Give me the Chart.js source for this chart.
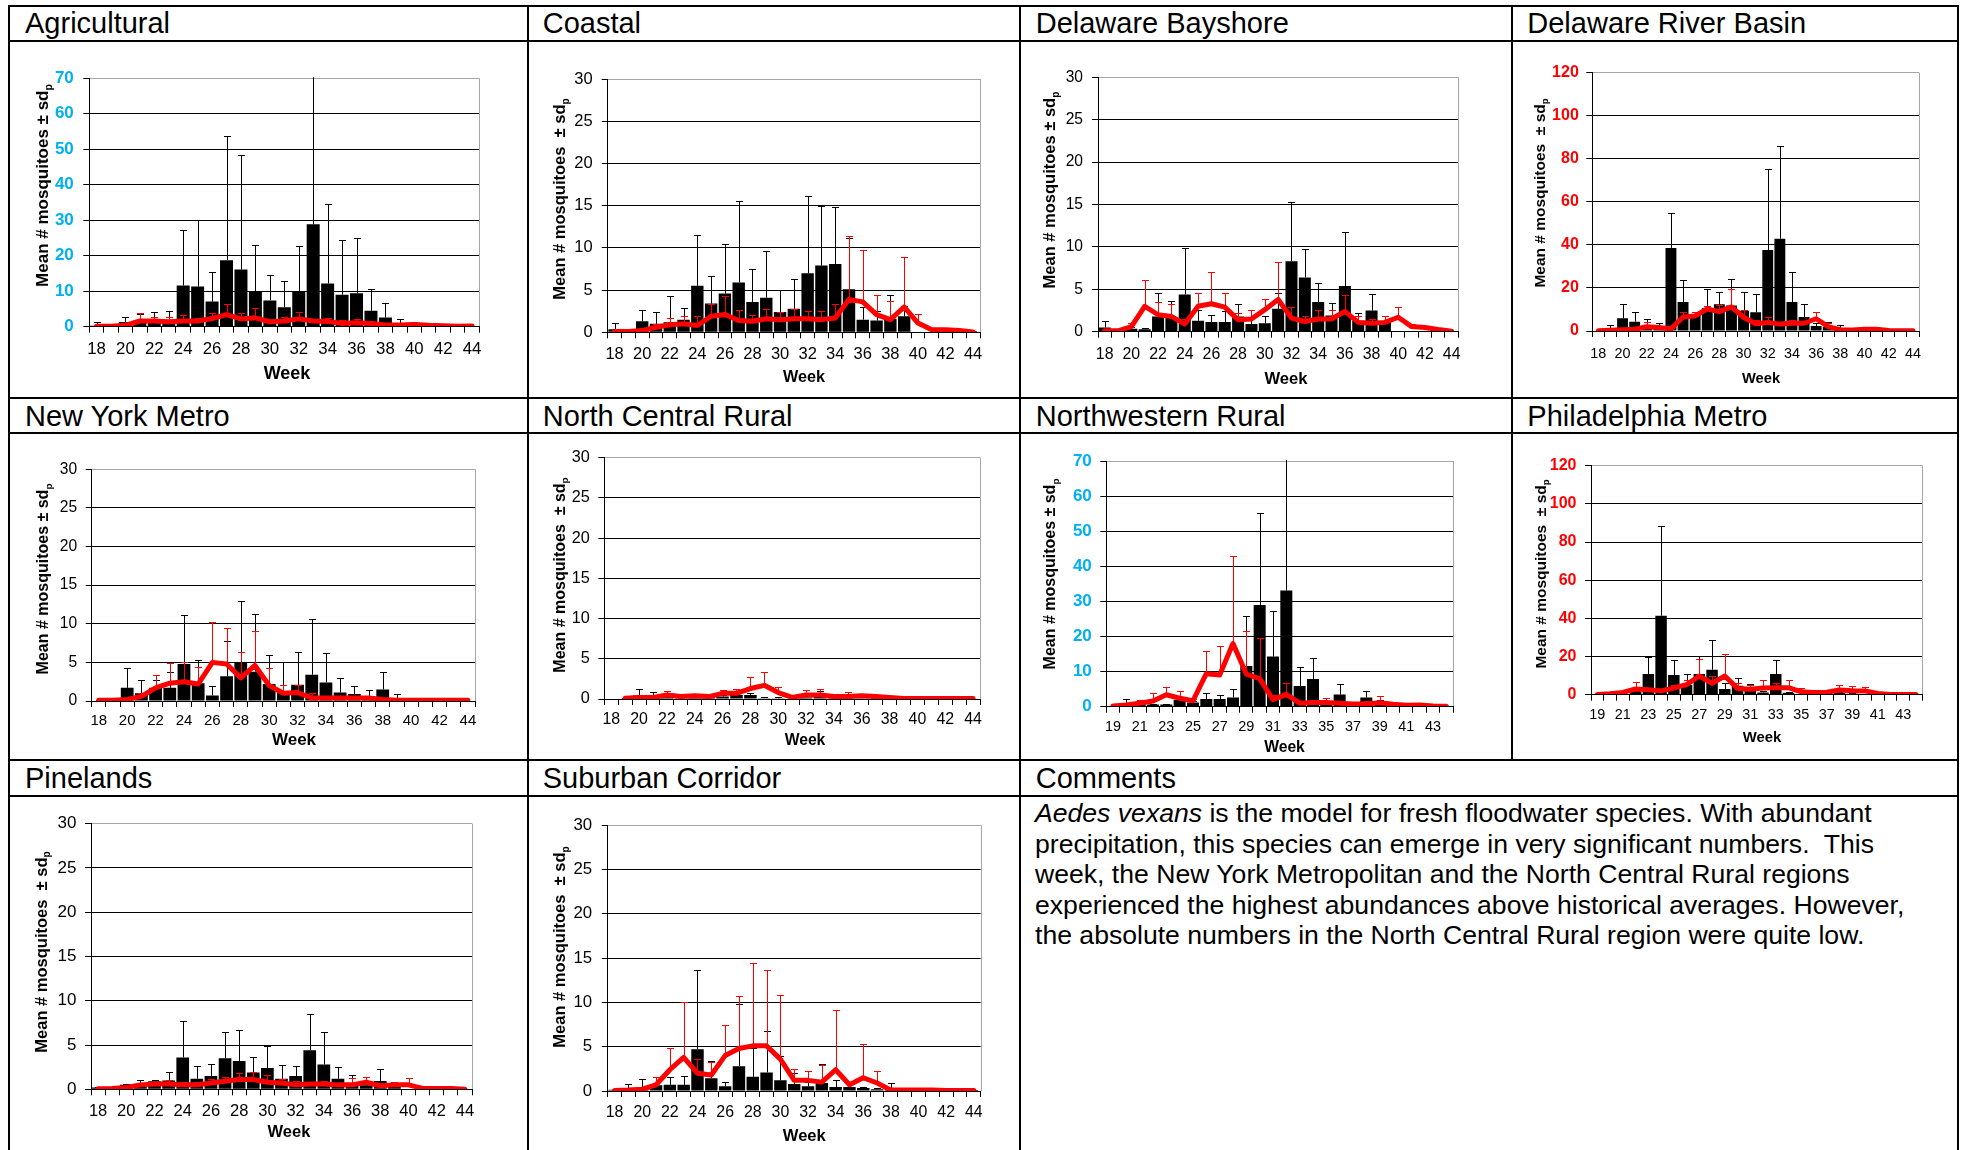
<!DOCTYPE html>
<html>
<head>
<meta charset="utf-8">
<script src="https://cdn.jsdelivr.net/npm/chart.js@4.4.1/dist/chart.umd.min.js"></script>
<style>
  html, body { margin: 0; padding: 0; background: #fff; }
  #page { position: relative; width: 1965px; height: 1150px; overflow: hidden;
          font-family: "Liberation Sans", Arial, sans-serif; color: #000; background: #fff; }
  .rule { position: absolute; background: #000; }
  .txt { position: absolute; white-space: pre; }
  canvas { position: absolute; }
</style>
</head>
<body>
<div id="page"></div>
<script>
// ---- Weeks (categories) ----
const weeksFrom18 = [18, 19, 20, 21, 22, 23, 24, 25, 26, 27, 28, 29, 30, 31, 32, 33, 34, 35, 36, 37, 38, 39, 40, 41, 42, 43, 44];
const weeksFrom19 = [19, 20, 21, 22, 23, 24, 25, 26, 27, 28, 29, 30, 31, 32, 33, 34, 35, 36, 37, 38, 39, 40, 41, 42, 43, 44];

// ---- Agricultural ----
const agriCurrent      = [0.3, 0, 1.3, 1.2, 1.8, 1.8, 11.6, 11.3, 7.1, 18.7, 16.1, 10.0, 7.4, 5.5, 10.0, 28.9, 12.2, 9.0, 9.4, 4.5, 2.6, 0.4, 0, 0, 0, 0, 0];
const agriCurrentSd    = [1.0, 0, 1.5, 2.4, 2.3, 2.7, 15.7, 18.8, 8.3, 34.9, 32.3, 13.1, 7.3, 7.3, 12.7, 45, 22.5, 15.4, 15.6, 6.1, 4.2, 1.9, 0, 0, 0, 0, 0];
const agriHistoric     = [0.1, 0.1, 0.4, 1.6, 1.6, 1.4, 1.6, 1.6, 2.3, 3.4, 2.2, 2.5, 1.4, 1.6, 2.2, 1.6, 1.5, 0.9, 1.1, 0.9, 0.5, 0.5, 0.6, 0.4, 0.3, 0.1, 0.2];
const agriHistoricSd   = [0.2, 0.2, 0.5, 2.3, 1.0, 1.3, 1.6, 0.9, 1.5, 3.0, 1.6, 2.9, 0.5, 1.2, 1.9, 0.7, 0.9, 0.9, 1.0, 0.8, 0.4, 0.3, 0.6, 0.2, 0.2, 0.1, 0.1];

// ---- Coastal ----
const coastCurrent     = [0.35, 0, 1.3, 1.0, 1.2, 1.5, 5.5, 3.4, 4.6, 5.9, 3.6, 4.1, 2.4, 2.8, 7.0, 7.9, 8.1, 5.1, 1.5, 1.4, 1.6, 1.9, 0, 0, 0, 0, 0];
const coastCurrentSd   = [0.75, 0, 1.4, 1.4, 3.1, 1.4, 6.0, 3.3, 5.9, 9.7, 3.9, 5.5, 2.6, 3.5, 9.1, 7.0, 6.7, 6.1, 1.5, 1.1, 2.8, 1.2, 0, 0, 0, 0, 0];
const coastHistoric    = [0.1, 0.1, 0.2, 0.6, 0.9, 1.0, 0.8, 1.9, 2.1, 1.4, 1.3, 1.6, 1.5, 1.6, 1.6, 1.5, 1.7, 3.9, 3.6, 2.1, 1.5, 3.0, 1.1, 0.3, 0.3, 0.2, 0.05];
const coastHistoricSd  = [0.1, 0.1, 0.2, 0.4, 0.8, 0.9, 1.1, 1.5, 2.2, 1.3, 0.7, 1.2, 0.9, 1.2, 0.9, 1.0, 1.7, 7.5, 6.1, 2.3, 2.2, 5.9, 1.1, 0.2, 0.2, 0.1, 0.05];

// ---- Delaware Bayshore ----
const bayCurrent       = [0.5, 0, 0.35, 0.3, 1.8, 1.65, 4.4, 1.3, 1.15, 1.15, 1.8, 0.9, 1.0, 2.7, 8.3, 6.4, 3.5, 1.9, 5.4, 1.3, 2.5, 1.05, 0, 0, 0, 0, 0];
const bayCurrentSd     = [0.8, 0, 0.2, 0.1, 2.8, 2.0, 5.5, 1.3, 0.8, 1.25, 1.5, 0.7, 0.8, 1.9, 7.0, 3.4, 2.2, 1.5, 6.3, 0.9, 1.9, 0.75, 0, 0, 0, 0, 0];
const bayHistoric      = [0.1, 0.1, 0.6, 3.0, 2.0, 1.8, 0.9, 3.0, 3.3, 2.9, 1.4, 1.5, 2.6, 3.8, 1.6, 1.2, 1.5, 1.5, 2.4, 1.1, 1.0, 1.1, 1.7, 0.6, 0.5, 0.25, 0.05];
const bayHistoricSd    = [0.1, 0.1, 0.4, 3.1, 1.5, 1.5, 0.6, 1.6, 3.7, 1.7, 0.8, 1.1, 1.3, 4.4, 1.3, 0.7, 1.1, 1.0, 1.9, 0.7, 0.5, 0.7, 1.2, 0.3, 0.1, 0.05, 0.02];

// ---- Delaware River Basin ----
const riverCurrent     = [0, 1.1, 5.9, 4.3, 2.0, 1.2, 38.6, 13.5, 7.4, 10.7, 12.4, 11.9, 9.4, 8.7, 37.6, 42.9, 13.5, 6.5, 2.3, 2.0, 0.5, 0, 0, 0, 0, 0, 0];
const riverCurrentSd   = [0, 1.5, 6.5, 4.7, 3.4, 2.7, 16.1, 10.0, 1.6, 8.8, 5.7, 12.3, 8.7, 8.5, 37.8, 43.2, 13.8, 6.2, 1.5, 2.3, 2.3, 0, 0, 0, 0, 0, 0];
const riverHistoric    = [0.1, 0.3, 0.6, 0.8, 2.0, 1.6, 1.0, 6.5, 7.0, 10.2, 9.0, 11.2, 6.4, 3.4, 4.0, 3.2, 3.6, 3.6, 5.7, 2.0, 0.6, 0.5, 0.8, 0.8, 0.2, 0.1, 0.1];
const riverHistoricSd  = [0.1, 0.2, 0.3, 0.4, 2.0, 0.8, 0.5, 2.5, 2.0, 1.6, 3.0, 8.1, 3.4, 1.9, 2.5, 1.1, 1.7, 1.2, 3.1, 1.5, 0.5, 0.4, 0.5, 0.5, 0.2, 0.1, 0.1];

// ---- New York Metro ----
const nyCurrent        = [0, 0, 1.7, 1.0, 1.7, 1.7, 4.8, 2.3, 0.7, 3.2, 5.0, 3.8, 2.2, 1.1, 2.1, 3.4, 2.4, 1.1, 0.9, 0.65, 1.5, 0.35, 0, 0, 0, 0, 0];
const nyCurrentSd      = [0, 0, 2.6, 1.7, 1.0, 2.0, 6.3, 3.0, 1.2, 4.6, 7.9, 7.5, 3.8, 3.9, 4.3, 7.2, 3.8, 1.9, 1.0, 0.75, 2.2, 0.55, 0, 0, 0, 0, 0];
const nyHistoric       = [0.1, 0.1, 0.2, 0.6, 1.7, 2.3, 2.5, 2.2, 5.0, 4.8, 3.0, 4.6, 2.0, 1.0, 1.1, 0.4, 0.4, 0.4, 0.4, 0.4, 0.2, 0.1, 0.1, 0.1, 0.1, 0.1, 0.1];
const nyHistoricSd     = [0.05, 0.05, 0.1, 0.5, 1.7, 2.6, 2.6, 2.2, 5.2, 4.7, 3.3, 4.4, 2.3, 1.1, 1.0, 0.7, 0.1, 0.1, 0.1, 0.1, 0.05, 0.05, 0, 0, 0, 0, 0];

// ---- North Central Rural ----
const ncCurrent        = [0, 0, 0.45, 0.4, 0.3, 0.1, 0.2, 0.5, 0.3, 0.5, 0.5, 0.1, 0.1, 0, 0.2, 0.3, 0.1, 0.2, 0.1, 0.1, 0.1, 0, 0, 0, 0, 0, 0];
const ncCurrentSd      = [0, 0, 0.75, 0.5, 0.3, 0.1, 0.1, 0.1, 0.2, 0.7, 0.3, 0.1, 0.1, 0, 0.3, 0.7, 0.1, 0.1, 0.1, 0, 0, 0, 0, 0, 0, 0, 0];
const ncHistoric       = [null, 0.1, 0.2, 0.2, 0.5, 0.3, 0.4, 0.3, 0.7, 0.7, 1.3, 1.7, 0.8, 0.2, 0.5, 0.5, 0.3, 0.3, 0.4, 0.3, 0.2, 0.05, 0.05, 0.05, 0.05, 0.05, 0.05];
const ncHistoricSd     = [null, 0.05, 0.1, 0.1, 0.5, 0.2, 0.2, 0.1, 0.4, 0.6, 1.4, 1.7, 0.7, 0.1, 0.6, 0.7, 0.2, 0.6, 0.1, 0.1, 0.05, 0, 0, 0, 0, 0, 0];

// ---- Northwestern Rural (weeks 19-44) ----
const nwCurrent        = [0, 0.5, 1.0, 0.6, 0.6, 1.9, 1.2, 2.2, 2.2, 2.6, 11.6, 29.0, 14.3, 33.1, 5.9, 7.9, 1.1, 3.5, 0.9, 2.6, 1.3, 0.5, 0.2, 0.3, 0, 0];
const nwCurrentSd      = [0, 1.7, 0.5, 0.2, 0.1, 2.6, 0.4, 1.6, 1.2, 2.4, 14.1, 26.1, 13.1, 45, 5.3, 6.1, 0.5, 3.1, 0.3, 1.9, 0.5, 0.2, 0, 0, 0, 0];
const nwHistoric       = [0.2, 0.5, 1.0, 1.6, 3.4, 2.4, 1.7, 9.4, 9.0, 18.0, 9.3, 8.0, 2.0, 3.5, 1.0, 1.2, 1.2, 1.0, 0.8, 0.8, 1.1, 0.7, 0.4, 0.5, 0.2, 0.1];
const nwHistoricSd     = [0.1, 0.2, 0.8, 2.4, 2.2, 2.0, 0.5, 6.5, 8.4, 25.0, 12.3, 11.6, 1.4, 3.3, 0.5, 0.4, 1.3, 0.5, 0.4, 0.7, 2.0, 0.3, 0.1, 0.4, 0.05, 0.05];

// ---- Philadelphia Metro (weeks 19-44) ----
const phlCurrent       = [0, 0, 0.3, 1.6, 10.8, 41.4, 10.3, 5.1, 10.8, 13.1, 3.0, 4.7, 3.8, 1.2, 10.8, 1.0, 0.3, 0, 0, 1.0, 0.5, 0.3, 0, 0, 0, 0];
const phlCurrentSd     = [0, 0, 0.2, 0.5, 8.8, 47.2, 7.7, 5.7, 9.6, 15.7, 2.9, 4.0, 1.8, 0.5, 7.2, 0.5, 0.2, 0, 0, 0.5, 0.3, 0.2, 0, 0, 0, 0];
const phlHistoric      = [0.1, 0.5, 1.2, 3.0, 2.6, 2.0, 3.5, 5.3, 9.8, 5.9, 9.8, 3.3, 2.8, 3.5, 3.6, 3.7, 1.5, 1.1, 1.3, 2.5, 2.1, 2.0, 0.6, 0.1, 0.1, 0.1];
const phlHistoricSd    = [0.1, 0.3, 0.5, 3.6, 0.7, 0.8, 1.7, 2.4, 8.9, 4.1, 11.7, 2.8, 2.2, 4.0, 2.7, 3.8, 1.8, 0.5, 0.5, 2.4, 2.3, 1.9, 0.3, 0.1, 0.05, 0.05];

// ---- Pinelands ----
const pineCurrent      = [0.2, 0, 0.5, 0.4, 0.9, 1.0, 3.6, 1.2, 1.5, 3.5, 3.2, 1.9, 2.4, 1.2, 1.5, 4.4, 2.8, 1.2, 0.6, 0.45, 0.95, 0.3, 0, 0, 0, 0, 0];
const pineCurrentSd    = [0.05, 0, 0.1, 0.7, 0.1, 0.9, 4.1, 1.4, 1.4, 3.0, 3.5, 1.7, 2.5, 1.6, 1.1, 4.1, 3.7, 1.3, 1.0, 0.2, 1.35, 0.2, 0, 0, 0, 0, 0];
const pineHistoric     = [0.05, 0.1, 0.2, 0.5, 0.6, 0.6, 0.5, 0.5, 0.7, 0.9, 1.1, 1.1, 0.8, 0.7, 0.5, 0.6, 0.6, 0.5, 0.5, 0.8, 0.4, 0.5, 0.5, 0.1, 0.1, 0.1, 0];
const pineHistoricSd   = [0.05, 0.05, 0.1, 0.2, 0.2, 0.4, 0.3, 0.3, 0.5, 0.5, 0.7, 0.9, 0.8, 0.5, 0.4, 0.2, 0.3, 0.2, 0.8, 0.6, 0.2, 0.3, 0.8, 0.1, 0.1, 0.05, 0];

// ---- Suburban Corridor ----
const suburbCurrent    = [0.15, 0.1, 0.35, 0.65, 0.7, 0.7, 4.7, 1.45, 0.55, 2.8, 1.6, 2.1, 1.2, 0.8, 0.55, 0.9, 0.45, 0.45, 0.35, 0.2, 0.1, 0, 0, 0, 0, 0, 0];
const suburbCurrentSd  = [0, 0.65, 0.95, 0.95, 0.9, 1.0, 9.0, 1.95, 0.45, 7.0, 3.2, 4.7, 2.7, 1.2, 0.5, 2.1, 0.75, 0.6, 0.15, 0.1, 0.8, 0, 0, 0, 0, 0, 0];
const suburbHistoric   = [0.05, 0.1, 0.2, 0.7, 2.4, 3.8, 2.0, 1.8, 4.0, 4.8, 5.1, 5.1, 3.6, 1.2, 1.2, 1.0, 2.4, 0.7, 1.5, 0.9, 0.1, 0.1, 0.1, 0.1, 0.05, 0.05, 0.05];
const suburbHistoricSd = [0.05, 0.05, 0.1, 0.9, 2.5, 6.2, 1.6, 1.5, 3.5, 5.9, 9.4, 8.6, 7.2, 1.3, 1.1, 1.9, 6.8, 0.3, 3.8, 1.4, 0.1, 0.05, 0.05, 0.05, 0.05, 0.05, 0.05];

// ---- Axis ranges ----
const smallAxis = { max: 30, step: 5 };
const mediumAxis = { max: 70, step: 10 };
const largeAxis = { max: 120, step: 20 };

const AXIS_TITLE_1 = 'Mean # mosquitoes \u00b1 sd';
const AXIS_TITLE_2 = 'Mean # mosquitoes  \u00b1 sd';
const BLUE = '#00B0F0', RED = '#FF0000', BLACK = '#000000';

// ---- Panel layout (cell, plot rectangle, type sizes) ----
const panels = [
  { title: 'Agricultural', cell: [10, 42, 527, 397], plot: [89.3, 78.3, 479.3, 326.7], titleX: 25, titleBase: 33.3,
    weeks: weeksFrom18, cur: agriCurrent, curSd: agriCurrentSd, hist: agriHistoric, histSd: agriHistoricSd,
    axis: mediumAxis, yColor: BLUE, yBold: true, yf: 17, yPad: 9.5, xf: 16.8, xlY: 349, wf: 18, wx: 287, wy: 373,
    ytx: 41.7, yty: 185.5, ytf: 17, ytText: AXIS_TITLE_1 },
  { title: 'Coastal', cell: [529, 42, 1019, 397], plot: [607.7, 79, 980, 332.3], titleX: 542.7, titleBase: 33.3,
    weeks: weeksFrom18, cur: coastCurrent, curSd: coastCurrentSd, hist: coastHistoric, histSd: coastHistoricSd,
    axis: smallAxis, yColor: BLACK, yBold: false, yf: 16.5, yPad: 9, xf: 16.5, xlY: 354, wf: 16.2, wx: 804, wy: 376,
    ytx: 559, yty: 199, ytf: 16.5, ytText: AXIS_TITLE_2 },
  { title: 'Delaware Bayshore', cell: [1021, 42, 1511, 397], plot: [1098, 77.3, 1458.3, 331.7], titleX: 1035.7, titleBase: 33.3,
    weeks: weeksFrom18, cur: bayCurrent, curSd: bayCurrentSd, hist: bayHistoric, histSd: bayHistoricSd,
    axis: smallAxis, yColor: BLACK, yBold: false, yf: 15.6, yPad: 9, xf: 15.9, xlY: 355, wf: 16.6, wx: 1286, wy: 378,
    ytx: 1049, yty: 190, ytf: 16.5, ytText: AXIS_TITLE_1 },
  { title: 'Delaware River Basin', cell: [1513, 42, 1957, 397], plot: [1592.3, 72.7, 1919, 331], titleX: 1527.3, titleBase: 33.3,
    weeks: weeksFrom18, cur: riverCurrent, curSd: riverCurrentSd, hist: riverHistoric, histSd: riverHistoricSd,
    axis: largeAxis, yColor: RED, yBold: true, yf: 16, yPad: 7.5, xf: 14.4, xlY: 354, wf: 14.7, wx: 1761, wy: 378,
    ytx: 1539, yty: 193, ytf: 15.5, ytText: AXIS_TITLE_2 },
  { title: 'New York Metro', cell: [10, 434, 527, 759], plot: [91.7, 469.3, 475, 701], titleX: 25, titleBase: 426.7,
    weeks: weeksFrom18, cur: nyCurrent, curSd: nyCurrentSd, hist: nyHistoric, histSd: nyHistoricSd,
    axis: smallAxis, yColor: BLACK, yBold: false, yf: 15.6, yPad: 8.5, xf: 15, xlY: 720.7, wf: 17, wx: 294, wy: 739,
    ytx: 42.7, yty: 579, ytf: 16, ytText: AXIS_TITLE_1 },
  { title: 'North Central Rural', cell: [529, 434, 1019, 759], plot: [604.3, 457.7, 980, 699], titleX: 542.7, titleBase: 426.7,
    weeks: weeksFrom18, cur: ncCurrent, curSd: ncCurrentSd, hist: ncHistoric, histSd: ncHistoricSd,
    axis: smallAxis, yColor: BLACK, yBold: false, yf: 16.2, yPad: 8.5, xf: 15.9, xlY: 720, wf: 15.7, wx: 805, wy: 739.3,
    ytx: 559, yty: 575, ytf: 16, ytText: AXIS_TITLE_2 },
  { title: 'Northwestern Rural', cell: [1021, 434, 1511, 759], plot: [1106.3, 461, 1453, 706.7], titleX: 1035.7, titleBase: 426.7,
    weeks: weeksFrom19, cur: nwCurrent, curSd: nwCurrentSd, hist: nwHistoric, histSd: nwHistoricSd,
    axis: mediumAxis, yColor: BLUE, yBold: true, yf: 17, yPad: 8.5, xf: 14.4, xlY: 726.7, wf: 15.7, wx: 1284.5, wy: 746,
    ytx: 1049.7, yty: 574, ytf: 16, ytText: AXIS_TITLE_1 },
  { title: 'Philadelphia Metro', cell: [1513, 434, 1957, 759], plot: [1591, 465.7, 1922.3, 694.7], titleX: 1527.3, titleBase: 426.7,
    weeks: weeksFrom19, cur: phlCurrent, curSd: phlCurrentSd, hist: phlHistoric, histSd: phlHistoricSd,
    axis: largeAxis, yColor: RED, yBold: true, yf: 16, yPad: 8.5, xf: 14.4, xlY: 715, wf: 14.9, wx: 1762, wy: 736.7,
    ytx: 1540, yty: 574, ytf: 15.5, ytText: AXIS_TITLE_2 },
  { title: 'Pinelands', cell: [10, 797, 527, 1150], plot: [91, 823.7, 472, 1089.3], titleX: 25, titleBase: 788,
    weeks: weeksFrom18, cur: pineCurrent, curSd: pineCurrentSd, hist: pineHistoric, histSd: pineHistoricSd,
    axis: smallAxis, yColor: BLACK, yBold: false, yf: 17, yPad: 8.5, xf: 16.5, xlY: 1111.3, wf: 16.5, wx: 289, wy: 1131.3,
    ytx: 40.7, yty: 952, ytf: 16.5, ytText: AXIS_TITLE_2 },
  { title: 'Suburban Corridor', cell: [529, 797, 1019, 1150], plot: [607.7, 825.3, 980.7, 1091], titleX: 542.7, titleBase: 788,
    weeks: weeksFrom18, cur: suburbCurrent, curSd: suburbCurrentSd, hist: suburbHistoric, histSd: suburbHistoricSd,
    axis: smallAxis, yColor: BLACK, yBold: false, yf: 16.8, yPad: 9.5, xf: 15.9, xlY: 1112.7, wf: 16.6, wx: 804.3, wy: 1134.7,
    ytx: 559, yty: 947, ytf: 16.5, ytText: AXIS_TITLE_2 }
];

const commentLines = [
  '<i>Aedes vexans</i> is the model for fresh floodwater species. With abundant',
  'precipitation, this species can emerge in very significant numbers.&nbsp; This',
  'week, the New York Metropolitan and the North Central Rural regions',
  'experienced the highest abundances above historical averages. However,',
  'the absolute numbers in the North Central Rural region were quite low.'
];

const page = document.getElementById('page');
const FONT = '"Liberation Sans", Arial, sans-serif';

// Text placed by its baseline (Liberation Sans ascent 0.905, descent 0.212)
function putText(x, baseline, size, html, extra) {
  const d = document.createElement('div');
  d.className = 'txt';
  d.style.cssText = `left:${x}px;top:${baseline - 0.905 * size}px;font-size:${size}px;line-height:${1.117 * size}px;` + (extra || '');
  d.innerHTML = html;
  page.appendChild(d);
}

function rule(x, y, w, h) {
  const d = document.createElement('div');
  d.className = 'rule';
  d.style.cssText = `left:${x}px;top:${y}px;width:${w}px;height:${h}px`;
  page.appendChild(d);
}

Chart.defaults.font.family = FONT;
Chart.defaults.color = '#000';

// fixed axis box sizes so every plot area lands where the layout wants it
const AXIS_W = 55, AXIS_H = 40, TICK = 6;

function drawErrorBars(chart, datasetIndex) {
  const ds = chart.data.datasets[datasetIndex];
  if (!ds.errors) return;
  const meta = chart.getDatasetMeta(datasetIndex);
  const ctx = chart.ctx, a = chart.chartArea, ys = chart.scales.y;
  ctx.save();
  ctx.beginPath();
  ctx.rect(a.left, a.top - 1, a.right - a.left, a.bottom - a.top + 1);
  ctx.clip();
  ctx.strokeStyle = ds.errColor;
  ctx.lineWidth = 1;
  meta.data.forEach((el, i) => {
    const m = ds.data[i], s = ds.errors[i];
    if (m == null || s == null || s <= 0) return;
    const x = Math.round(el.x) + 0.5;
    const yBase = ys.getPixelForValue(m);
    const yTop = Math.round(ys.getPixelForValue(m + s)) + 0.5;
    ctx.beginPath();
    ctx.moveTo(x, yBase);
    ctx.lineTo(x, yTop);
    ctx.moveTo(x - 3.5, yTop);
    ctx.lineTo(x + 3.5, yTop);
    ctx.stroke();
  });
  ctx.restore();
}

function decorations(p) {
  const [c0, r0] = p.cell;
  return {
    id: 'decor',
    beforeDatasetsDraw(chart) {
      // grey right edge of the plot area
      const a = chart.chartArea, ctx = chart.ctx;
      ctx.save();
      ctx.strokeStyle = '#A6A6A6';
      ctx.lineWidth = 1;
      const x = Math.round(a.right) + 0.5;
      ctx.beginPath();
      ctx.moveTo(x, a.top);
      ctx.lineTo(x, a.bottom);
      ctx.stroke();
      ctx.restore();
    },
    afterDatasetDraw(chart, args) {
      drawErrorBars(chart, args.index);
    },
    afterDraw(chart) {
      const ctx = chart.ctx;
      // x-axis title
      ctx.save();
      ctx.fillStyle = '#000';
      ctx.font = `bold ${p.wf}px ${FONT}`;
      ctx.textAlign = 'center';
      ctx.textBaseline = 'alphabetic';
      ctx.fillText('Week', p.wx - c0, p.wy - r0 + 0.358 * p.wf);
      ctx.restore();
      // rotated y-axis title with subscript p
      ctx.save();
      ctx.fillStyle = '#000';
      ctx.translate(p.ytx - c0, p.yty - r0);
      ctx.rotate(-Math.PI / 2);
      const f = p.ytf, fs = f * 0.62;
      ctx.font = `bold ${f}px ${FONT}`;
      const wMain = ctx.measureText(p.ytText).width;
      ctx.font = `bold ${fs}px ${FONT}`;
      const wSub = ctx.measureText('p').width;
      const start = -(wMain + wSub) / 2;
      const base = 0.358 * f;
      ctx.textAlign = 'left';
      ctx.textBaseline = 'alphabetic';
      ctx.font = `bold ${f}px ${FONT}`;
      ctx.fillText(p.ytText, start, base);
      ctx.font = `bold ${fs}px ${FONT}`;
      ctx.fillText('p', start + wMain, base + 0.22 * f);
      ctx.restore();
    }
  };
}

function buildPanel(p) {
  const [c0, r0, c1, r1] = p.cell;
  const [pl, pt, pr, pb] = p.plot;
  const cw = c1 - c0, ch = r1 - r0;
  const canvas = document.createElement('canvas');
  canvas.width = cw;
  canvas.height = ch;
  canvas.style.cssText = `left:${c0}px;top:${r0}px;width:${cw}px;height:${ch}px`;
  page.appendChild(canvas);

  const padding = { left: pl - c0 - AXIS_W, top: pt - r0, right: c1 - pr, bottom: r1 - pb - AXIS_H };
  const xPad = p.xlY - pb - TICK - 0.6 * p.xf;
  const yMax = p.axis.max;

  new Chart(canvas, {
    type: 'bar',
    data: {
      labels: p.weeks.map(String),
      datasets: [
        { type: 'bar', data: p.cur, errors: p.curSd, errColor: '#000', backgroundColor: '#000',
          borderWidth: 0, barPercentage: 0.9, categoryPercentage: 1, order: 2 },
        { type: 'line', data: p.hist, errors: p.histSd, errColor: RED, borderColor: RED,
          borderWidth: 5, pointRadius: 0, tension: 0, fill: false, spanGaps: true,
          borderJoinStyle: 'round', borderCapStyle: 'round', order: 1 }
      ]
    },
    options: {
      responsive: false,
      animation: false,
      events: [],
      layout: { autoPadding: false, padding },
      plugins: { legend: { display: false }, tooltip: { enabled: false } },
      scales: {
        x: {
          type: 'category',
          offset: true,
          grid: { offset: true, drawOnChartArea: false, drawTicks: true, tickLength: TICK, color: '#000', lineWidth: 1 },
          border: { display: true, color: '#000', width: 1, z: 1 },
          ticks: {
            autoSkip: false, maxRotation: 0, minRotation: 0, padding: xPad,
            font: { size: p.xf }, color: '#000',
            callback: (v, i) => (i % 2 === 0 ? String(p.weeks[i]) : '')
          },
          afterFit: (s) => { s.height = AXIS_H; }
        },
        y: {
          min: 0,
          max: yMax,
          ticks: { stepSize: p.axis.step, padding: p.yPad, color: p.yColor,
                   font: { size: p.yf, weight: p.yBold ? 'bold' : 'normal' } },
          grid: {
            color: (c) => (c.tick && c.tick.value === yMax ? '#A6A6A6' : '#000'),
            tickColor: '#000', tickLength: TICK, lineWidth: 1, drawTicks: true
          },
          border: { display: true, color: '#000', width: 1, z: 1 },
          afterFit: (s) => { s.width = AXIS_W; }
        }
      }
    },
    plugins: [decorations(p)]
  });
}

panels.forEach(buildPanel);

// Panel titles
panels.forEach(p => putText(p.titleX, p.titleBase, 29, p.title));

// Comments cell
putText(1035.7, 788, 29, 'Comments');
commentLines.forEach((line, i) => putText(1035, 823 + i * 30.6, 26.6, line));

// Table rules
[5, 40, 397, 432, 759, 795].forEach(y => rule(8, y, 1951, 2));
rule(8, 5, 2, 1145);
rule(527, 5, 2, 1145);
rule(1019, 5, 2, 1145);
rule(1511, 5, 2, 756);
rule(1957, 5, 2, 1145);
</script>
</body>
</html>
